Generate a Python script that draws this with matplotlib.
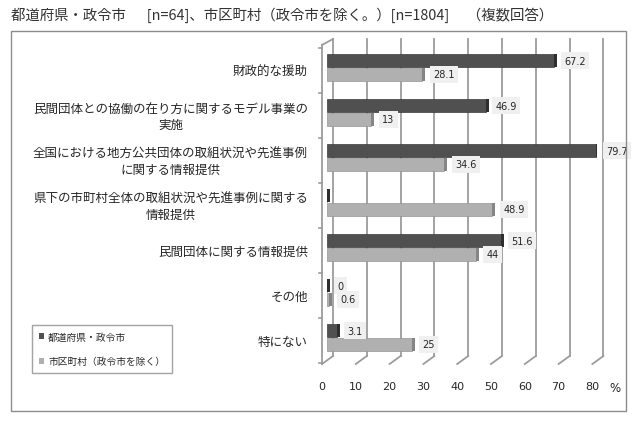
import matplotlib
matplotlib.use("Agg")
import matplotlib.pyplot as plt
import numpy as np
from matplotlib.patches import Patch, Rectangle
from matplotlib.transforms import blended_transform_factory, offset_copy

plt.rcParams['font.family'] = ['Noto Sans CJK JP', 'DejaVu Sans']

# data
categories = [
    "財政的な援助",
    "民間団体との協働の在り方に関するモデル事業の\n実施",
    "全国における地方公共団体の取組状況や先進事例\nに関する情報提供",
    "県下の市町村全体の取組状況や先進事例に関する\n情報提供",
    "民間団体に関する情報提供",
    "その他",
    "特にない",
]
series_names = ["都道府県・政令市", "市区町村（政令市を除く）"]
pref_values = [67.2, 46.9, 79.7, 0, 51.6, 0, 3.1]
pref_labels = ["67.2", "46.9", "79.7", None, "51.6", "0", "3.1"]
muni_values = [28.1, 13, 34.6, 48.9, 44, 0.6, 25]
muni_labels = ["28.1", "13", "34.6", "48.9", "44", "0.6", "25"]
xticks = [0, 10, 20, 30, 40, 50, 60, 70, 80]
title = "都道府県・政令市　  [n=64]、市区町村（政令市を除く。）[n=1804]　 （複数回答）"

dark, dark_cap = "#505050", "#2e2e2e"
light, light_cap = "#b0b0b0", "#858585"
grid_c = "#9c9c9c"
text_c = "#262626"

fig = plt.figure(figsize=(6.4, 4.27), dpi=100)
ax = fig.add_axes([327 / 640, 66 / 427, 270.4 / 640, 315 / 427])
ax.set_xlim(0, 80)
ax.set_ylim(6.5, -0.5)
ax.axis("off")

px = 80 / 270.4   # data units per pixel (x)
py = 1 / 315      # axes units per pixel (y)
bt = blended_transform_factory(ax.transData, ax.transAxes)

# back wall grid + floor diagonals (fake 3D)
for t in xticks:
    ax.plot([t + 6 * px] * 2, [4 * py, 1 + 6 * py], color=grid_c, lw=1.3,
            transform=bt, clip_on=False, zorder=0)
    ax.plot([t - 5 * px, t + 6 * px], [-4 * py, 4 * py], color=grid_c, lw=1.3,
            transform=bt, clip_on=False, zorder=0)
# left wall
ax.plot([-5 * px, -5 * px], [-4 * py, 1], color=grid_c, lw=1.3, transform=bt, clip_on=False)
ax.plot([-5 * px, 6 * px], [1, 1 + 6 * py], color=grid_c, lw=1.3, transform=bt, clip_on=False)
for k in range(len(categories) + 1):
    yk = 1 - k / len(categories) - 3 * py
    ax.plot([-8 * px, -5 * px], [yk, yk], color=grid_c, lw=1.2, transform=bt, clip_on=False)

y = np.arange(len(categories))
h = 0.29
cap = 3 * px
ax.barh(y - 0.15, pref_values, height=h, color=dark, edgecolor="#3a3a3a", lw=0.5, zorder=3)
ax.barh(y - 0.15, [cap] * len(y), left=pref_values, height=h, color=dark_cap, lw=0, zorder=3)
ax.barh(y + 0.15, muni_values, height=h, color=light, edgecolor="#959595", lw=0.5, zorder=3)
ax.barh(y + 0.15, [cap] * len(y), left=muni_values, height=h, color=light_cap, lw=0, zorder=3)

box = dict(boxstyle="square,pad=0.35", fc="#f0f0f0", ec="none")
for vals, labs, dy, gap in [(pref_values, pref_labels, -0.15, 7), (muni_values, muni_labels, 0.15, 8)]:
    for i, (v, lab) in enumerate(zip(vals, labs)):
        if lab is None:
            continue
        ax.annotate(lab, xy=(v + cap, i + dy), xytext=(gap, 0), textcoords="offset pixels",
                    ha="left", va="center", fontsize=7, family="DejaVu Sans",
                    color=text_c, bbox=box, zorder=4, annotation_clip=False)

# category labels
cat_tr = offset_copy(ax.transData, fig=fig, x=-19, y=-4, units="dots")
for i, cat in enumerate(categories):
    ax.text(0, i, cat, transform=cat_tr, ha="right", va="center", ma="center",
            fontsize=9, color=text_c, linespacing=1.35)

# x tick labels (front edge of the floor)
tick_tr = offset_copy(bt, fig=fig, x=-5, y=-26, units="dots")
for t in xticks:
    ax.text(t, 0, str(t), transform=tick_tr, ha="center", va="center",
            fontsize=8, family="DejaVu Sans", color=text_c)
ax.text(80, 0, "%", transform=offset_copy(bt, fig=fig, x=18, y=-28, units="dots"),
        ha="center", va="center", fontsize=8.5, family="DejaVu Sans", color=text_c)

fig.text(11 / 640, 1 - 15 / 427, title, fontsize=10.4, va="center", color="#333333")
fig.add_artist(Rectangle((11 / 640, 1 - 412 / 427), 615 / 640, 380 / 427,
                         transform=fig.transFigure, fill=False, ec="#8c8c8c", lw=1))

handles = [Patch(fc=dark), Patch(fc=light)]
leg = fig.legend(handles, series_names, loc="upper left",
                 bbox_to_anchor=(32 / 640, 1 - 326 / 427), frameon=True, fancybox=False,
                 edgecolor="#8c8c8c", fontsize=7, handlelength=0.55, handleheight=0.55,
                 handletextpad=0.4, labelspacing=1.5, borderpad=0.7, borderaxespad=0)
leg.get_frame().set_linewidth(1)
for txt in leg.get_texts():
    txt.set_color(text_c)

fig.savefig("out.png", dpi=100)
